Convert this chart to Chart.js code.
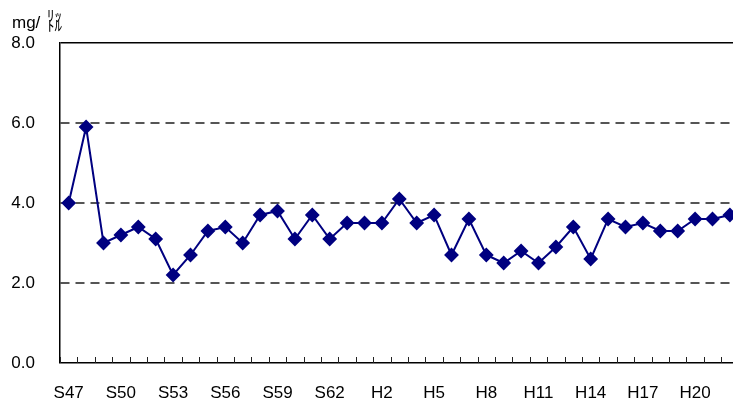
<!DOCTYPE html>
<html>
<head>
<meta charset="utf-8">
<script src="https://cdn.jsdelivr.net/npm/chart.js@4.4.1/dist/chart.umd.min.js"></script>
<style>
  html, body { margin: 0; padding: 0; background: #fff; overflow: hidden; }
  #wrap { position: relative; width: 750px; height: 401px; }
</style>
</head>
<body>
<div id="wrap"><canvas id="chart"></canvas></div>
<script>
  // fiscal years, Showa then Heisei
  var years = ["S47","S48","S49","S50","S51","S52","S53","S54","S55","S56","S57","S58","S59","S60","S61","S62","S63",
               "H1","H2","H3","H4","H5","H6","H7","H8","H9","H10","H11","H12","H13","H14","H15","H16","H17","H18","H19","H20","H21","H22"];
  var values = [4.0, 5.9, 3.0, 3.2, 3.4, 3.1, 2.2, 2.7, 3.3, 3.4, 3.0, 3.7, 3.8, 3.1, 3.7, 3.1, 3.5,
                3.5, 3.5, 4.1, 3.5, 3.7, 2.7, 3.6, 2.7, 2.5, 2.8, 2.5, 2.9, 3.4, 2.6, 3.6, 3.4, 3.5, 3.3, 3.3, 3.6, 3.6, 3.7];
  var yTicks = [0, 2, 4, 6, 8];
  var fontFam = "'Liberation Sans', Arial, sans-serif";

  // small tick marks pointing up from the x axis, between the years
  var innerTicks = {
      id: "innerTicks",
      afterDraw: function(chart) {
          var x = chart.scales.x, ctx = chart.ctx;
          var step = x.getPixelForValue(1) - x.getPixelForValue(0);
          var bottom = chart.chartArea.bottom;
          ctx.save();
          ctx.strokeStyle = "#222";
          ctx.lineWidth = 1;
          for (var i = 0; i <= years.length; i++) {
              var px = Math.round(x.getPixelForValue(i) - step / 2) + 0.5;
              ctx.beginPath();
              ctx.moveTo(px, bottom);
              ctx.lineTo(px, bottom - 6);
              ctx.stroke();
          }
          ctx.restore();
      }
  };

  // unit label "mg/ﾘｯﾄﾙ" top left
  var unitLabel = {
      id: "unitLabel",
      afterDraw: function(chart) {
          var ctx = chart.ctx;
          ctx.save();
          ctx.fillStyle = "#000";
          ctx.textBaseline = "alphabetic";
          ctx.font = "17px " + fontFam;
          ctx.fillText("mg/", 12, 28);
          ctx.font = "15px 'Noto Sans CJK JP', sans-serif";
          ctx.fillText("ﾘｯ", 47, 21);
          ctx.fillText("ﾄﾙ", 47, 31);
          ctx.restore();
      }
  };

  var chart = new Chart("chart", {
      type: "line",
      data: {
          labels: years,
          datasets: [{
              data: values,
              borderColor: "#000080",
              backgroundColor: "#000080",
              borderWidth: 2,
              pointStyle: "rectRot",
              pointRadius: 6,
              pointHoverRadius: 6,
              tension: 0
          }]
      },
      options: {
          responsive: true,
          maintainAspectRatio: false,
          animation: false,
          events: [],
          layout: { padding: { top: 43, right: 5, left: 0, bottom: 0 } },
          plugins: { legend: { display: false }, tooltip: { enabled: false } },
          scales: {
              x: {
                  offset: true,
                  grid: { display: false, drawTicks: false },
                  border: { display: true, color: "#000", width: 1.5 },
                  ticks: {
                      autoSkip: false,
                      maxRotation: 0,
                      padding: 20,
                      color: "#000",
                      font: { family: fontFam, size: 17 },
                      callback: function(v, i) { return i % 3 === 0 ? years[i] : ""; }
                  },
                  afterFit: function(s) { s.height = 38; }
              },
              y: {
                  min: 0,
                  max: 8,
                  afterBuildTicks: function(s) { s.ticks = yTicks.map(function(v) { return { value: v }; }); },
                  grid: {
                      drawTicks: false,
                      color: function(c) { return c.tick && c.tick.value === 8 ? "#000" : "#555"; },
                      lineWidth: function(c) {
                          if (!c.tick || c.tick.value === 0) return 0;
                          return c.tick.value === 8 ? 1.5 : 2;
                      }
                  },
                  border: {
                      display: true,
                      color: "#000",
                      width: 1.5,
                      dash: function(c) { return c.tick && c.tick.value === 8 ? [] : [9, 6]; }
                  },
                  ticks: {
                      padding: 25,
                      color: "#000",
                      font: { family: fontFam, size: 17 },
                      callback: function(v) { return Number(v).toFixed(1); }
                  },
                  afterFit: function(s) { s.width = 60; }
              }
          }
      },
      plugins: [innerTicks, unitLabel]
  });
</script>
</body>
</html>
